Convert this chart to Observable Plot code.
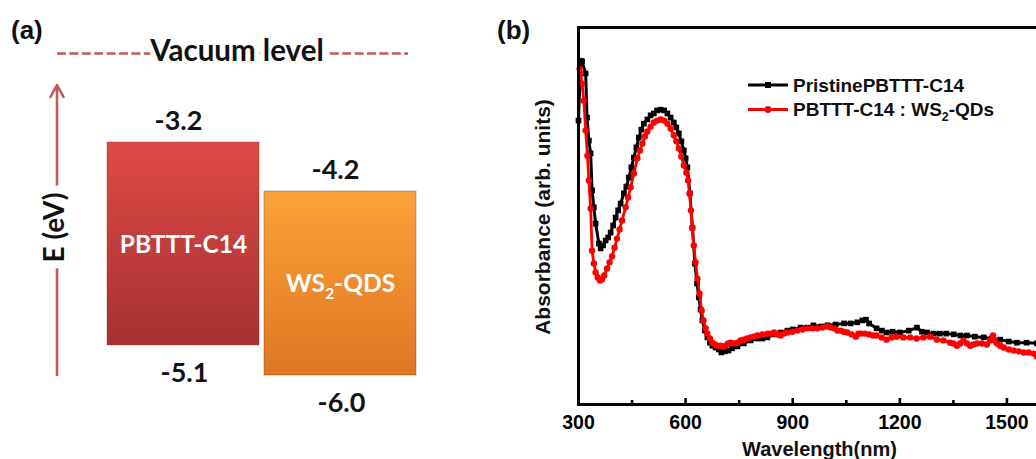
<!DOCTYPE html>
<html>
<head>
<meta charset="utf-8">
<script src="https://cdn.jsdelivr.net/npm/d3@7"></script>
<script src="https://cdn.jsdelivr.net/npm/@observablehq/plot@0.6"></script>
<style>
  html, body { margin: 0; padding: 0; background: #fff; overflow: hidden; }
  #wrap { position: relative; width: 1036px; height: 459px; overflow: hidden; background: #fff; }
  #panelA { position: absolute; left: 0; top: 0; width: 490px; height: 459px; }
  #panelB { position: absolute; left: 490px; top: 0; width: 580px; height: 459px; }
  .tag { position: absolute; font-family: "Liberation Sans", Arial, sans-serif; font-weight: bold; font-size: 26px; line-height: 26px; color: #111; }
</style>
</head>
<body>
<div id="wrap">
  <div id="panelA"></div>
  <div id="panelB"></div>
  <div class="tag" style="left:11px; top:17px;">(a)</div>
  <div class="tag" style="left:497px; top:17px;">(b)</div>
</div>
<script>
// ---------------- Panel (a): energy levels ----------------
const materials = ["PBTTT-C14", "WS2-QDS"];
const lumoLevels = [-3.2, -4.2];
const homoLevels = [-5.1, -6.0];
const vacuumLevel = 0;
const vacuumLabel = "Vacuum level";
const energyAxisLabel = "E (eV)";

// ---------------- Panel (b): absorbance spectra ----------------
const seriesNames = ["PristinePBTTT-C14", "PBTTT-C14 : WS2-QDs"];
const pristineWavelength = [300,306,310,320,324,329,334,338,343,348,357,362,369,376,383,390,397,404,411,418,427,434,441,448,455,462,469,476,483,493,502,511,520,530,540,549,558,567,574,581,588,595,600,605,612,619,626,632,637,642,647,654,661,668,675,684,693,700,710,720,730,745,763,782,800,815,829,848,866,885,900,922,940,958,980,997,1020,1044,1062,1081,1095,1105,1114,1135,1150,1163,1180,1200,1225,1248,1262,1276,1295,1312,1330,1351,1370,1388,1410,1435,1458,1481,1505,1528,1555,1584,1610];
const pristineAbsorbance = [0.753,0.912,0.910,0.878,0.761,0.700,0.666,0.568,0.523,0.480,0.427,0.414,0.422,0.435,0.443,0.456,0.475,0.496,0.515,0.533,0.560,0.578,0.602,0.629,0.655,0.682,0.708,0.729,0.745,0.756,0.767,0.772,0.780,0.782,0.780,0.772,0.761,0.748,0.735,0.719,0.698,0.674,0.653,0.629,0.560,0.469,0.374,0.321,0.284,0.252,0.223,0.196,0.178,0.164,0.156,0.151,0.146,0.138,0.141,0.143,0.149,0.154,0.162,0.170,0.175,0.175,0.178,0.186,0.191,0.196,0.199,0.204,0.204,0.210,0.207,0.210,0.212,0.215,0.215,0.218,0.223,0.225,0.215,0.202,0.196,0.191,0.193,0.191,0.196,0.204,0.193,0.191,0.188,0.188,0.188,0.186,0.183,0.183,0.180,0.178,0.175,0.172,0.167,0.164,0.164,0.162,0.159];
const compositeWavelength = [303,306,310,315,320,325,329,334,338,343,348,354,360,366,372,380,387,394,401,408,415,422,432,439,446,455,465,472,479,486,493,502,511,520,530,540,549,558,567,574,581,588,595,602,607,611,615,619,623,628,633,639,645,650,656,661,668,675,682,689,698,705,712,719,726,735,745,754,763,772,782,791,801,815,829,838,848,857,866,875,885,899,913,927,941,955,969,983,997,1007,1016,1025,1034,1043,1053,1065,1077,1084,1091,1102,1114,1125,1135,1149,1163,1177,1191,1210,1229,1247,1266,1285,1304,1322,1341,1350,1360,1369,1378,1388,1397,1406,1416,1430,1444,1453,1461,1466,1472,1481,1491,1505,1519,1533,1547,1561,1575,1584,1600];
const compositeAbsorbance = [0.891,0.878,0.851,0.806,0.727,0.660,0.594,0.520,0.408,0.374,0.350,0.337,0.329,0.332,0.342,0.361,0.377,0.393,0.416,0.440,0.464,0.488,0.523,0.549,0.576,0.613,0.653,0.674,0.692,0.711,0.724,0.737,0.748,0.753,0.756,0.753,0.745,0.732,0.714,0.698,0.679,0.658,0.634,0.615,0.594,0.560,0.515,0.469,0.422,0.377,0.334,0.294,0.249,0.223,0.202,0.188,0.175,0.164,0.159,0.156,0.156,0.154,0.156,0.162,0.164,0.162,0.164,0.170,0.172,0.175,0.178,0.180,0.183,0.186,0.188,0.188,0.191,0.186,0.183,0.188,0.191,0.193,0.196,0.199,0.202,0.202,0.202,0.204,0.207,0.204,0.202,0.196,0.196,0.193,0.191,0.186,0.180,0.188,0.188,0.188,0.186,0.183,0.183,0.178,0.172,0.178,0.180,0.178,0.178,0.175,0.178,0.180,0.172,0.170,0.164,0.162,0.156,0.162,0.170,0.162,0.156,0.159,0.162,0.162,0.159,0.170,0.183,0.170,0.162,0.156,0.151,0.146,0.143,0.141,0.138,0.138,0.135,0.127,0.122];
const majorTicks = [300, 600, 900, 1200, 1500];
const minorTicks = [450, 750, 1050, 1350];
const xAxisLabel = "Wavelength(nm)";
const yAxisLabel = "Absorbance (arb. units)";

// ---------- helpers ----------
function subscriptWS2(root, fontSize) {
  d3.select(root).selectAll("text").each(function () {
    if (this.querySelector("tspan")) return;
    const s = this.textContent;
    const k = s.indexOf("WS2");
    if (k < 0) return;
    const el = d3.select(this).text(null);
    el.append("tspan").text(s.slice(0, k + 2));
    el.append("tspan").attr("font-size", fontSize * 0.65).attr("dy", fontSize * 0.28).text("2");
    el.append("tspan").attr("dy", -fontSize * 0.28).text(s.slice(k + 3));
  });
}

// ---------- Panel (a) ----------
const boxes = materials.map((name, i) => ({name, lumo: lumoLevels[i], homo: homoLevels[i]}));
const gradientStops = {
  "PBTTT-C14": ["#dd4a47", "#a63131"],
  "WS2-QDS": ["#fca23a", "#de7722"]
};
const gradId = name => "grad-" + name.replace(/[^A-Za-z0-9]/g, "");
const accent = "#c45856";
const energies = [vacuumLevel, ...lumoLevels, ...homoLevels].sort((a, b) => b - a);
const labelFont = "Lato, 'Open Sans', sans-serif";

const defsMark = () => {
  const defs = d3.create("svg:defs");
  for (const name of materials) {
    const g = defs.append("linearGradient").attr("id", gradId(name)).attr("x1", 0).attr("y1", 0).attr("x2", 0).attr("y2", 1);
    g.append("stop").attr("offset", "0%").attr("stop-color", gradientStops[name][0]);
    g.append("stop").attr("offset", "100%").attr("stop-color", gradientStops[name][1]);
  }
  return defs.node();
};

const arrowMark = (index, scales, values, dims) => {
  const x = dims.marginLeft;
  const yBottom = scales.y(d3.min(homoLevels));
  const yTop = scales.y(vacuumLevel) + 32;
  const g = d3.create("svg:g").attr("stroke", accent).attr("stroke-width", 2.6).attr("fill", "none").attr("stroke-linecap", "round");
  g.append("line").attr("x1", x).attr("x2", x).attr("y1", yBottom).attr("y2", yTop + 1);
  g.append("path").attr("d", `M${x - 6.5},${yTop + 12}L${x},${yTop}L${x + 6.5},${yTop + 12}`).attr("stroke-linejoin", "round");
  return g.node();
};

const plotA = Plot.plot({
  width: 490,
  height: 459,
  marginLeft: 57,
  marginRight: 82,
  marginTop: 80,
  marginBottom: 85,
  style: {fontFamily: labelFont, background: "transparent", maxWidth: "none", overflow: "visible"},
  x: {type: "band", domain: materials, range: [106, 417], paddingInner: 0.0316, paddingOuter: 0, axis: null},
  y: {type: "linear", domain: energies, range: [53, 142, 191, 345, 375], axis: null},
  color: {type: "identity"},
  marks: [
    defsMark,
    Plot.ruleY([vacuumLevel], {stroke: accent, strokeWidth: 2.6, strokeDasharray: "9,3.4"}),
    arrowMark,
    Plot.text([vacuumLabel], {y: () => vacuumLevel, text: d => d, dx: 4, dy: -1.5, fontSize: 29.5, fontWeight: "bold", fill: "#111", stroke: "white", strokeWidth: 10, paintOrder: "stroke"}),
    Plot.text([energyAxisLabel], {frameAnchor: "left", textAnchor: "middle", lineAnchor: "middle", rotate: -90, dx: -2, fontSize: 28, fontWeight: "bold", fill: "#111", stroke: "white", strokeWidth: 16, paintOrder: "stroke"}),
    Plot.barY(boxes, {x: "name", y1: "lumo", y2: "homo", fill: d => `url(#${gradId(d.name)})`, stroke: "rgba(120,40,20,0.35)", strokeWidth: 1}),
    Plot.text(boxes, {x: "name", y: "lumo", text: d => d.lumo.toFixed(1), dx: -5, dy: -21.5, fontSize: 27, fontWeight: "bold", fill: "#111"}),
    Plot.text(boxes, {x: "name", y: "homo", text: d => d.homo.toFixed(1), dx: 1, dy: 27.5, fontSize: 27, fontWeight: "bold", fill: "#111"}),
    Plot.text(boxes.slice(0, 1), {x: "name", y: "homo", text: "name", dy: -100, fontSize: 24.5, fontWeight: "bold", fill: "white"}),
    Plot.text(boxes.slice(1, 2), {x: "name", y: "homo", text: "name", dy: -91, fontSize: 24.5, fontWeight: "bold", fill: "white"})
  ]
});
subscriptWS2(plotA, 24.5);
document.getElementById("panelA").appendChild(plotA);

// ---------- Panel (b) ----------
const pristine = pristineWavelength.map((w, i) => ({wavelength: w, absorbance: pristineAbsorbance[i]}));
const composite = compositeWavelength.map((w, i) => ({wavelength: w, absorbance: compositeAbsorbance[i]}));
const seriesColors = ["#000000", "#ff0000"];
const seriesSymbols = ["square", "circle"];
const bFont = "'Liberation Sans', Arial, sans-serif";

const legendMark = (index, scales, values, dims) => {
  const g = d3.create("svg:g").attr("font-family", bFont).attr("font-weight", "bold").attr("font-size", 19).attr("fill", "#111").attr("text-anchor", "start");
  seriesNames.forEach((name, i) => {
    const x0 = dims.marginLeft + 170;
    const y0 = dims.marginTop + 58 + i * 24.5;
    g.append("line").attr("x1", x0).attr("x2", x0 + 40).attr("y1", y0).attr("y2", y0).attr("stroke", seriesColors[i]).attr("stroke-width", 3.2);
    if (seriesSymbols[i] === "square") {
      g.append("rect").attr("x", x0 + 17).attr("y", y0 - 3).attr("width", 6).attr("height", 6).attr("fill", seriesColors[i]);
    } else {
      g.append("circle").attr("cx", x0 + 20).attr("cy", y0).attr("r", 3.4).attr("fill", seriesColors[i]);
    }
    g.append("text").attr("x", x0 + 45).attr("y", y0).attr("dy", "0.35em").attr("text-anchor", "start").text(name);
  });
  return g.node();
};

const plotB = Plot.plot({
  width: 580,
  height: 459,
  marginLeft: 88,
  marginRight: 10,
  marginTop: 27,
  marginBottom: 55,
  style: {fontFamily: bFont, background: "transparent", maxWidth: "none", overflow: "visible"},
  x: {domain: [300, 1650], axis: null},
  y: {domain: [0, 1], axis: null},
  marks: [
    Plot.line(pristine, {x: "wavelength", y: "absorbance", stroke: seriesColors[0], strokeWidth: 3}),
    Plot.dot(pristine, {x: "wavelength", y: "absorbance", symbol: "square", r: 3.2, fill: seriesColors[0]}),
    Plot.line(composite, {x: "wavelength", y: "absorbance", stroke: seriesColors[1], strokeWidth: 2.8}),
    Plot.dot(composite, {x: "wavelength", y: "absorbance", r: 3.2, fill: seriesColors[1]}),
    Plot.frame({stroke: "black", strokeWidth: 3}),
    Plot.axisX({ticks: majorTicks, tickSize: -6, strokeWidth: 2.6, tickFormat: () => "", label: null}),
    Plot.axisX({ticks: minorTicks, tickSize: -4, strokeWidth: 2.6, tickFormat: () => "", label: null}),
    Plot.text(majorTicks, {x: d => d, frameAnchor: "bottom", text: d => String(d), textAnchor: "middle", lineAnchor: "top", dy: 10.5, fontSize: 19.5, fontWeight: 900, fill: "#000"}),
    Plot.text([xAxisLabel], {frameAnchor: "bottom", textAnchor: "middle", lineAnchor: "middle", dy: 45, fontSize: 20, fontWeight: "bold", fill: "#111"}),
    Plot.text([yAxisLabel], {frameAnchor: "left", textAnchor: "middle", lineAnchor: "middle", rotate: -90, dx: -35, dy: 1, fontSize: 21, fontWeight: "bold", fill: "#111"}),
    legendMark
  ]
});
subscriptWS2(plotB, 19);
document.getElementById("panelB").appendChild(plotB);
</script>
</body>
</html>
